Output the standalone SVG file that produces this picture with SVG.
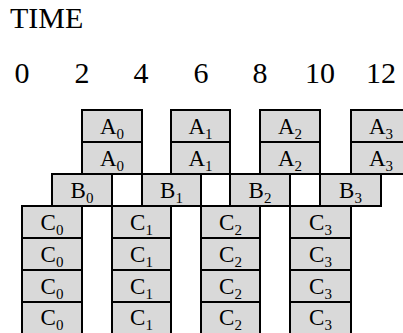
<svg xmlns="http://www.w3.org/2000/svg" width="403" height="333" viewBox="0 0 403 333">
<style>
text{font-family:"Liberation Serif","Times New Roman",serif}
.hdr{font-size:30px}
.tick{font-size:30px;text-anchor:middle}
.lbl{font-size:23px;text-anchor:middle}
.sub{font-size:15px}
.cell{fill:#d9d9d9;stroke:#000;stroke-width:2}
.blank{fill:#fff;stroke:#000;stroke-width:2}
</style>
<rect width="403" height="333" fill="#fff"/>
<g id="header">
<text class="hdr" x="10" y="28">TIME</text>
<text class="tick" x="22" y="83">0</text>
<text class="tick" x="82" y="83">2</text>
<text class="tick" x="141" y="83">4</text>
<text class="tick" x="201" y="83">6</text>
<text class="tick" x="260" y="83">8</text>
<text class="tick" x="320" y="83">10</text>
<text class="tick" x="381" y="83">12</text>
</g>
<g id="A0a"><rect class="cell" x="82" y="110" width="60" height="32"/><text class="lbl" x="112" y="134">A<tspan class="sub" dy="5">0</tspan></text></g>
<g id="A1a"><rect class="cell" x="171" y="110" width="59" height="32"/><text class="lbl" x="200.5" y="134">A<tspan class="sub" dy="5">1</tspan></text></g>
<g id="A2a"><rect class="cell" x="260" y="110" width="60" height="32"/><text class="lbl" x="290" y="134">A<tspan class="sub" dy="5">2</tspan></text></g>
<g id="A3a"><rect class="cell" x="351" y="110" width="60" height="32"/><text class="lbl" x="381" y="134">A<tspan class="sub" dy="5">3</tspan></text></g>
<g id="A0b"><rect class="cell" x="82" y="142" width="60" height="32"/><text class="lbl" x="112" y="166">A<tspan class="sub" dy="5">0</tspan></text></g>
<g id="A1b"><rect class="cell" x="171" y="142" width="59" height="32"/><text class="lbl" x="200.5" y="166">A<tspan class="sub" dy="5">1</tspan></text></g>
<g id="A2b"><rect class="cell" x="260" y="142" width="60" height="32"/><text class="lbl" x="290" y="166">A<tspan class="sub" dy="5">2</tspan></text></g>
<g id="A3b"><rect class="cell" x="351" y="142" width="60" height="32"/><text class="lbl" x="381" y="166">A<tspan class="sub" dy="5">3</tspan></text></g>
<g id="B0"><rect class="cell" x="52" y="174" width="60" height="32"/><text class="lbl" x="82" y="198">B<tspan class="sub" dy="5">0</tspan></text></g>
<g id="gap01"><rect class="blank" x="112" y="174" width="30" height="32"/></g>
<g id="B1"><rect class="cell" x="142" y="174" width="59" height="32"/><text class="lbl" x="171.5" y="198">B<tspan class="sub" dy="5">1</tspan></text></g>
<g id="gap12"><rect class="blank" x="201" y="174" width="29" height="32"/></g>
<g id="B2"><rect class="cell" x="230" y="174" width="60" height="32"/><text class="lbl" x="260" y="198">B<tspan class="sub" dy="5">2</tspan></text></g>
<g id="gap23"><rect class="blank" x="290" y="174" width="30" height="32"/></g>
<g id="B3"><rect class="cell" x="320" y="174" width="61" height="32"/><text class="lbl" x="350.5" y="198">B<tspan class="sub" dy="5">3</tspan></text></g>
<g id="C0a"><rect class="cell" x="22" y="206" width="60" height="32"/><text class="lbl" x="52" y="230">C<tspan class="sub" dy="5">0</tspan></text></g>
<g id="C0b"><rect class="cell" x="22" y="238" width="60" height="32"/><text class="lbl" x="52" y="262">C<tspan class="sub" dy="5">0</tspan></text></g>
<g id="C0c"><rect class="cell" x="22" y="270" width="60" height="32"/><text class="lbl" x="52" y="294">C<tspan class="sub" dy="5">0</tspan></text></g>
<g id="C0d"><rect class="cell" x="22" y="302" width="60" height="32"/><text class="lbl" x="52" y="325">C<tspan class="sub" dy="5">0</tspan></text></g>
<g id="C1a"><rect class="cell" x="112" y="206" width="59" height="32"/><text class="lbl" x="141.5" y="230">C<tspan class="sub" dy="5">1</tspan></text></g>
<g id="C1b"><rect class="cell" x="112" y="238" width="59" height="32"/><text class="lbl" x="141.5" y="262">C<tspan class="sub" dy="5">1</tspan></text></g>
<g id="C1c"><rect class="cell" x="112" y="270" width="59" height="32"/><text class="lbl" x="141.5" y="294">C<tspan class="sub" dy="5">1</tspan></text></g>
<g id="C1d"><rect class="cell" x="112" y="302" width="59" height="32"/><text class="lbl" x="141.5" y="325">C<tspan class="sub" dy="5">1</tspan></text></g>
<g id="C2a"><rect class="cell" x="201" y="206" width="59" height="32"/><text class="lbl" x="230.5" y="230">C<tspan class="sub" dy="5">2</tspan></text></g>
<g id="C2b"><rect class="cell" x="201" y="238" width="59" height="32"/><text class="lbl" x="230.5" y="262">C<tspan class="sub" dy="5">2</tspan></text></g>
<g id="C2c"><rect class="cell" x="201" y="270" width="59" height="32"/><text class="lbl" x="230.5" y="294">C<tspan class="sub" dy="5">2</tspan></text></g>
<g id="C2d"><rect class="cell" x="201" y="302" width="59" height="32"/><text class="lbl" x="230.5" y="325">C<tspan class="sub" dy="5">2</tspan></text></g>
<g id="C3a"><rect class="cell" x="290" y="206" width="61" height="32"/><text class="lbl" x="320.5" y="230">C<tspan class="sub" dy="5">3</tspan></text></g>
<g id="C3b"><rect class="cell" x="290" y="238" width="61" height="32"/><text class="lbl" x="320.5" y="262">C<tspan class="sub" dy="5">3</tspan></text></g>
<g id="C3c"><rect class="cell" x="290" y="270" width="61" height="32"/><text class="lbl" x="320.5" y="294">C<tspan class="sub" dy="5">3</tspan></text></g>
<g id="C3d"><rect class="cell" x="290" y="302" width="61" height="32"/><text class="lbl" x="320.5" y="325">C<tspan class="sub" dy="5">3</tspan></text></g>
</svg>
